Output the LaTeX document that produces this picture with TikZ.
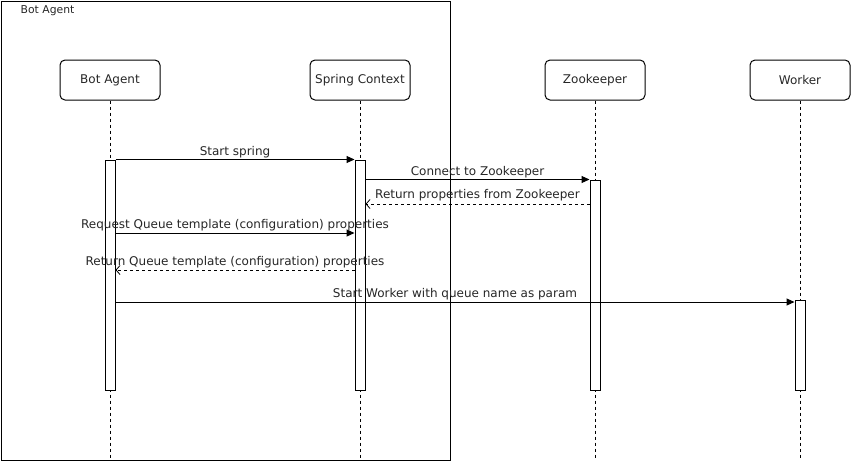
\documentclass[tikz,border=0pt]{standalone}
\usepackage{fontspec}
\setmainfont{DejaVu Sans}
\usetikzlibrary{arrows.meta, positioning}

\begin{document}
\begin{tikzpicture}[x=1pt, y=-1pt,
    frame/.style={
        draw,
        line width=1pt
      },
    actor/.style={
        draw,
        rounded corners=5pt,
        line width=1pt,
        minimum width=100pt,
        minimum height=40pt,
        inner sep=0pt,
        font=\fontsize{12}{14}\selectfont,
        text=black!85
      },
    bar/.style={
        draw,
        fill=white,
        line width=1pt,
        minimum width=10pt,
        inner sep=0pt
      },
    life/.style={line width=0.9pt, dash pattern=on 3pt off 3pt},
    msg/.style={-{Triangle[length=8pt, width=7pt]}, line width=1pt},
    ret/.style={-{Straight Barb[length=4pt, width=9pt]}, line width=0.8pt, dash pattern=on 3pt off 3pt},
    lbl/.style={font=\fontsize{12}{14}\selectfont, text=black!85, inner sep=1.5pt}
  ]
  \useasboundingbox (0,0) rectangle (851,461);

  % group frame
  \node[frame, minimum width=449pt, minimum height=459pt, inner sep=0pt, anchor=north west] (group) at (0.5,0.5) {};
  \node[lbl, font=\fontsize{10.8}{13}\selectfont, anchor=west] (grouptitle) at (19,11) {Bot Agent};

  % participants
  \node[actor] (agent) at (110,80) {Bot Agent};
  \node[actor] (spring) at (360,80) {Spring Context};
  \node[actor] (zk) at (595,80) {Zookeeper};
  \node[actor] (worker) at (800,80) {Worker};

  % lifelines
  \coordinate (agentend) at (110,459);
  \coordinate (springend) at (360,459);
  \coordinate (zkend) at (595,459);
  \coordinate (workerend) at (800,459);
  \draw[life] (agent.south) -- (agentend);
  \draw[life] (spring.south) -- (springend);
  \draw[life] (zk.south) -- (zkend);
  \draw[life] (worker.south) -- (workerend);

  % activations
  \node[bar, minimum height=230pt] (agentbar) at (110,275) {};
  \node[bar, minimum height=230pt] (springbar) at (360,275) {};
  \node[bar, minimum height=210pt] (zkbar) at (595,285) {};
  \node[bar, minimum height=90pt] (workerbar) at (800,345) {};

  % messages
  \draw[msg] (agentbar.north east) -- node[lbl, above] {Start spring} (springbar.north west);
  \draw[msg] (springbar.east |- zkbar.north) -- node[lbl, above] {Connect to Zookeeper} (zkbar.north west);
  \draw[ret] (zkbar.west |- 0,204) -- node[lbl, above, yshift=1pt] {Return properties from Zookeeper} (springbar.east |- 0,204);
  \draw[msg] (agentbar.east |- 0,233) -- node[lbl, above] {Request Queue template (configuration) properties} (springbar.west |- 0,233);
  \draw[ret] (springbar.west |- 0,270) -- node[lbl, above] {Return Queue template (configuration) properties} (agentbar.east |- 0,270);
  \draw[msg] (agentbar.east |- 0,302) -- node[lbl, above] {Start Worker with queue name as param} (workerbar.west |- 0,302);
\end{tikzpicture}
\end{document}
